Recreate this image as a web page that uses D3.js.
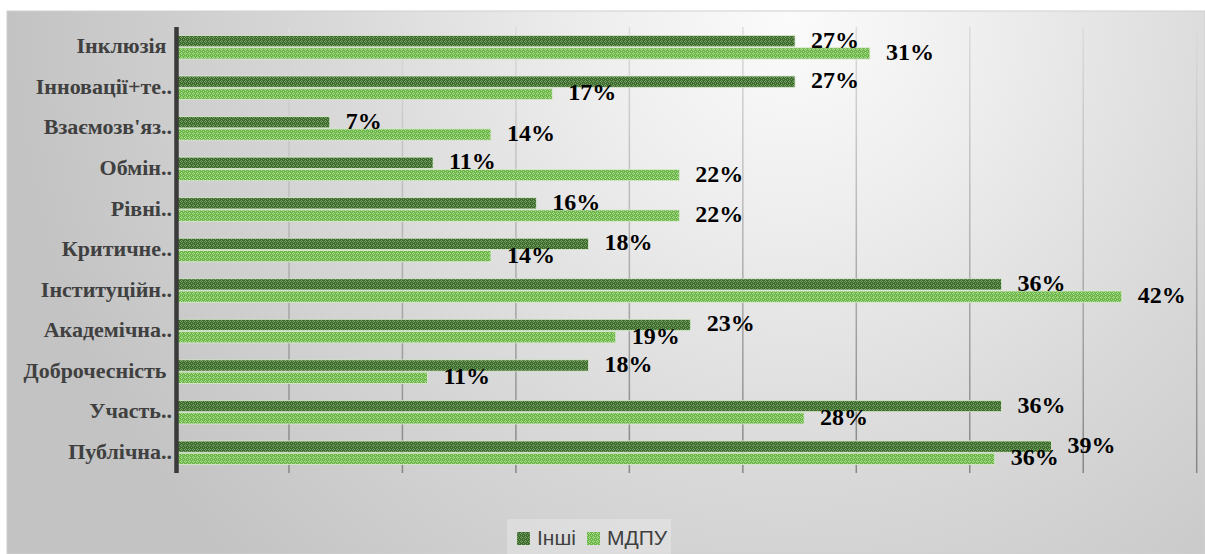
<!DOCTYPE html>
<html><head><meta charset="utf-8">
<script src="https://cdn.jsdelivr.net/npm/d3@7"></script>
<style>
html,body{margin:0;padding:0;background:#fff;}
svg{display:block;}
.cat{white-space:pre;}
</style></head>
<body>
<svg id="chart" width="1205" height="554"></svg>
<script>
const categories = ["Інклюзія ", "Інновації+те..", "Взаємозв'яз..", "Обмін..", "Рівні..", "Критичне..", "Інституційн..", "Академічна..", "Доброчесність ", "Участь..", "Публічна.."];
const seriesNames = ["Інші", "МДПУ"];
const inshi = [27.3, 27.3, 6.8, 11.35, 15.9, 18.2, 36.4, 22.7, 18.2, 36.4, 38.6];
const mdpu = [30.6, 16.6, 13.9, 22.2, 22.2, 13.9, 41.7, 19.4, 11.1, 27.7, 36.1];
const gridTicks = [5, 10, 15, 20, 25, 30, 35, 40, 45];

const svg = d3.select("#chart");
const defs = svg.append("defs");

// background gradient
const bg = defs.append("radialGradient").attr("id","bg").attr("gradientUnits","userSpaceOnUse")
  .attr("cx",790).attr("cy",20).attr("r",780);
bg.append("stop").attr("offset","0").attr("stop-color","#fbfbfb");
bg.append("stop").attr("offset","0.25").attr("stop-color","#eeeeee");
bg.append("stop").attr("offset","0.6").attr("stop-color","#d8d8d8");
bg.append("stop").attr("offset","1").attr("stop-color","#c3c3c3");

const gg = defs.append("linearGradient").attr("id","grid").attr("gradientUnits","userSpaceOnUse")
  .attr("x1",0).attr("y1",27).attr("x2",0).attr("y2",473);
gg.append("stop").attr("offset","0").attr("stop-color","#dcdcdc");
gg.append("stop").attr("offset","1").attr("stop-color","#868686");

function makePattern(id, base, light){
  const p = defs.append("pattern").attr("id",id).attr("patternUnits","userSpaceOnUse")
    .attr("width",4).attr("height",4);
  p.append("rect").attr("width",4).attr("height",4).attr("fill",base);
  [[1,0],[0,1],[2,1],[1,2],[3,3]].forEach(([x,y])=>{
    p.append("rect").attr("x",x).attr("y",y).attr("width",1).attr("height",1).attr("fill",light);
  });
}
makePattern("patDark", "#406b30", "#74a261");
makePattern("patLight", "#6cb548", "#abdc90");
const fills = ["url(#patDark)", "url(#patLight)"];

svg.append("rect").attr("x",7).attr("y",11).attr("width",1198).attr("height",543)
  .attr("fill","url(#bg)").attr("stroke","#d0d0d0").attr("stroke-width",1);

const x = d3.scaleLinear().domain([0,45]).range([175.5, 1196.7]);
const y = d3.scaleBand().domain(categories).range([27, 473]).paddingInner(1.3/3.3).paddingOuter(0.65/3.3);
const ySub = d3.scaleBand().domain(seriesNames).range([0, y.bandwidth()]);

// gridlines
svg.append("g").selectAll("line").data(gridTicks).join("line")
  .attr("x1",d=>x(d)).attr("x2",d=>x(d)).attr("y1",27).attr("y2",473)
  .attr("stroke","url(#grid)").attr("stroke-width",1.5);

const rows = categories.map((c,i)=>({cat:c, vals:[inshi[i], mdpu[i]]}));

const g = svg.append("g");
rows.forEach(r=>{
  r.vals.forEach((v,k)=>{
    const yy = y(r.cat) + ySub(seriesNames[k]);
    g.append("rect").attr("x",x(0)+2).attr("y",yy+0.5)
      .attr("width",x(v)-x(0)-2).attr("height",ySub.bandwidth()-1)
      .attr("fill",fills[k]).attr("stroke","#dcebd2").attr("stroke-width",0.8);
  });
});

// axis line
svg.append("line").attr("x1",x(0)+1).attr("x2",x(0)+1).attr("y1",27).attr("y2",473)
  .attr("stroke","#3a3a3a").attr("stroke-width",4.5);

// category labels
svg.append("g").selectAll("text").data(categories).join("text")
  .attr("class","cat")
  .attr("x",172).attr("y",d=>y(d)+y.bandwidth()/2+1)
  .attr("text-anchor","end").attr("dominant-baseline","middle")
  .attr("font-family","'Liberation Serif', 'Times New Roman', serif").attr("font-weight","bold")
  .attr("font-size",22).attr("fill","#404040").text(d=>d);

// value labels
rows.forEach(r=>{
  r.vals.forEach((v,k)=>{
    const yy = y(r.cat) + ySub(seriesNames[k]) + ySub.bandwidth()/2 + 1;
    svg.append("text").attr("x",x(v)+16).attr("y",yy)
      .attr("dominant-baseline","middle")
      .attr("font-family","'Liberation Serif', 'Times New Roman', serif").attr("font-weight","bold")
      .attr("font-size",24).attr("fill","#000").text(Math.round(v)+"%");
  });
});

// legend
const lg = svg.append("g");
lg.append("rect").attr("x",507).attr("y",519).attr("width",164).attr("height",35).attr("fill","#ffffff").attr("opacity",0.25);
const legX = [517, 587];
seriesNames.forEach((s,k)=>{
  lg.append("rect").attr("x",legX[k]).attr("y",532).attr("width",13).attr("height",13).attr("fill",fills[k]);
  lg.append("text").attr("x",legX[k]+20).attr("y",539).attr("dominant-baseline","middle")
    .attr("font-family","'Liberation Sans', Arial, sans-serif").attr("font-size",21).attr("fill","#404040").text(s);
});
</script>
</body></html>
